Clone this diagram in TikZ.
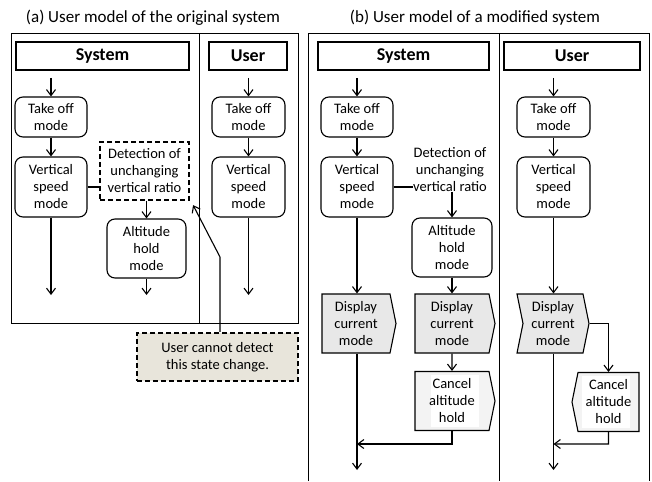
\documentclass[tikz,border=0pt]{standalone}
\usepackage{fontspec}
\setmainfont{Carlito}
\usetikzlibrary{arrows.meta,shapes.symbols}
\definecolor{notefill}{RGB}{232,229,219}
\definecolor{dispfill}{RGB}{232,232,232}
\definecolor{cancelfill}{RGB}{243,243,243}

\begin{document}
\begin{tikzpicture}[x=1pt,y=-1pt,
    >={Straight Barb[length=6pt,width=9pt]},
    every node/.style={font=\fontsize{14.5}{17}\selectfont,align=center,inner sep=0pt},
    title/.style={font=\fontsize{17}{20}\selectfont},
    header/.style={draw,line width=1.1pt,minimum height=28pt,font=\fontsize{18}{20}\selectfont\bfseries},
    mode/.style={draw,line width=1.1pt,rounded corners=8pt},
    dashbox/.style={draw,line width=2.2pt,dash pattern=on 5pt off 3pt},
    disp/.style={draw,line width=1.1pt,fill=dispfill,shape=signal,signal pointer angle=157,minimum height=59pt},
    cancel/.style={draw,line width=1.1pt,fill=cancelfill,shape=signal,signal pointer angle=157,minimum height=59pt,
        path picture={\fill[white] ([xshift=-24pt,yshift=-26pt]path picture bounding box.center) rectangle ([xshift=24pt,yshift=26pt]path picture bounding box.center);}},
    flow/.style={line width=1.1pt},
    frame/.style={line width=0.9pt}]
    \useasboundingbox (0,0) rectangle (652,481);

    % (a)
    \node[title] (titleA) at (153,18) {(a) User model of the original system};
    \draw[frame] (11,33) rectangle (298,323);
    \draw[frame] (199,33) -- (199,323);
    \node[header,minimum width=173pt] (sysA) at (102.5,56) {System};
    \node[header,minimum width=78pt] (userA) at (248,56) {User};
    \node[mode,minimum width=72pt,minimum height=40pt] (takeA) at (51,117) {Take off\\mode};
    \node[mode,minimum width=72pt,minimum height=60pt] (vsA) at (51,187) {Vertical\\speed\\mode};
    \node[dashbox,minimum width=89pt,minimum height=58pt] (detA) at (144.5,171) {Detection of\\unchanging\\vertical ratio};
    \node[mode,minimum width=79pt,minimum height=59pt] (altA) at (146.5,248.5) {Altitude\\hold\\mode};
    \node[mode,minimum width=73pt,minimum height=40pt] (takeUA) at (248.5,117) {Take off\\mode};
    \node[mode,minimum width=73pt,minimum height=60pt] (vsUA) at (248.5,187) {Vertical\\speed\\mode};
    \node[dashbox,fill=notefill,minimum width=161pt,minimum height=48pt] (noteA) at (217.5,357) {User cannot detect\\this state change.};
    \coordinate (inA) at (51,78);
    \coordinate (inUA) at (248.5,78);
    \coordinate (outA) at (51,295);
    \coordinate (outAltA) at (146.5,295);
    \coordinate (outUA) at (248.5,295);
    \coordinate (bendA) at (220,257);
    \draw[flow,->] (inA) -- (takeA);
    \draw[flow,->] (takeA) -- (vsA);
    \draw[flow] (vsA.east) -- (detA.west |- vsA.east);
    \draw[flow,->] (detA.south -| altA) -- (altA);
    \draw[flow,->] (vsA) -- (outA);
    \draw[flow,->] (altA) -- (outAltA);
    \draw[flow,->] (inUA) -- (takeUA);
    \draw[flow,->] (takeUA) -- (vsUA);
    \draw[flow,->] (vsUA) -- (outUA);
    \draw[flow,->] (noteA.north -| bendA) -- (bendA) -- ([xshift=3pt,yshift=-4pt]detA.south east);

    % (b)
    \node[title] (titleB) at (475,18) {(b) User model of a modified system};
    \draw[frame] (308,481) -- (308,33) -- (649,33) -- (649,481);
    \draw[frame] (499,33) -- (499,481);
    \node[header,minimum width=171pt] (sysB) at (403.5,56) {System};
    \node[header,minimum width=136pt] (userB) at (572,56) {User};
    \node[mode,minimum width=72pt,minimum height=40pt] (takeB) at (357,117) {Take off\\mode};
    \node[mode,minimum width=72pt,minimum height=60pt] (vsB) at (357,187) {Vertical\\speed\\mode};
    \node (detB) at (450,170) {Detection of\\unchanging\\vertical ratio};
    \node[mode,minimum width=80pt,minimum height=59pt] (altB) at (452,247.5) {Altitude\\hold\\mode};
    \node[disp,signal to=east,minimum width=74pt] (dispB) at (356,323.5) {Display\\current\\mode};
    \node[disp,signal to=east,minimum width=80pt] (dispAltB) at (452,323.5) {Display\\current\\mode};
    \node[cancel,signal from=east,minimum width=80pt] (cancB) at (452,401) {Cancel\\altitude\\hold};
    \node[mode,minimum width=73pt,minimum height=40pt] (takeUB) at (553.5,117) {Take off\\mode};
    \node[mode,minimum width=73pt,minimum height=60pt] (vsUB) at (553.5,187) {Vertical\\speed\\mode};
    \node[disp,signal from=west,minimum width=72pt] (dispUB) at (553,323.5) {Display\\current\\mode};
    \node[cancel,signal to=west,minimum width=67pt] (cancUB) at (608.5,402) {Cancel\\altitude\\hold};
    \coordinate (inB) at (357,78);
    \coordinate (inUB) at (553.5,78);
    \coordinate (joinB) at (452,444);
    \coordinate (outB) at (357,470);
    \coordinate (joinUB) at (608.5,444);
    \coordinate (outUB) at (553.5,470);
    \draw[flow,->] (inB) -- (takeB);
    \draw[flow,->] (takeB) -- (vsB);
    \draw[flow] (vsB.east) -- (detB.west |- vsB.east);
    \draw[flow,->] (detB.south -| altB) -- (altB);
    \draw[flow,->] (vsB) -- (vsB |- dispB.north);
    \draw[flow,->] (altB) -- (dispAltB);
    \draw[flow,->] (dispAltB) -- (cancB);
    \draw[flow,->] (cancB) -- (joinB) -- (joinB -| outB);
    \draw[flow,->] (dispB.south -| outB) -- (outB);
    \draw[flow,->] (inUB) -- (takeUB);
    \draw[flow,->] (takeUB) -- (vsUB);
    \draw[flow,->] (vsUB) -- (vsUB |- dispUB.north);
    \draw[flow,->] (dispUB.east) -| (cancUB);
    \draw[flow,->] (cancUB) -- (joinUB) -- (joinUB -| outUB);
    \draw[flow,->] (dispUB.south -| outUB) -- (outUB);
\end{tikzpicture}
\end{document}
